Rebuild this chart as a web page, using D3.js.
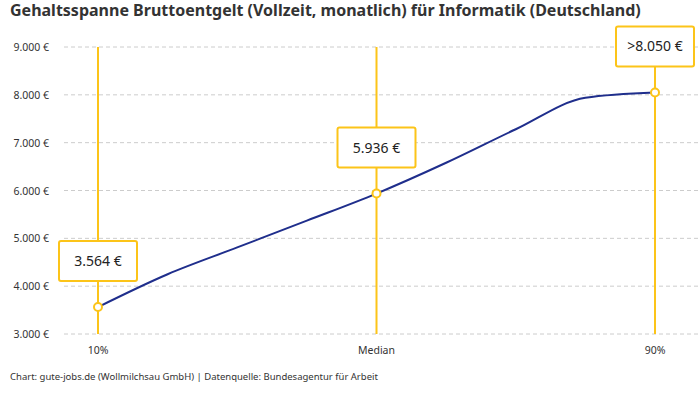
<!DOCTYPE html><html><head><meta charset="utf-8">
<script src="https://cdn.jsdelivr.net/npm/d3@7"></script>
<style>body{margin:0;background:#fff;font-family:"Noto Sans",sans-serif}</style></head><body>
<svg id="c" width="700" height="400"></svg>
<script>
const percentiles=[10,20,30,40,50,60,70,80,90];
const salaries=[3564,4250,4810,5370,5936,6580,7280,7940,8050];
const markers=[{p:10,label:"10%",value:"3.564 €"},{p:50,label:"Median",value:"5.936 €"},{p:90,label:"90%",value:">8.050 €"}];
const yTicks=[3000,4000,5000,6000,7000,8000,9000];
const svg=d3.select("#c");
const x=d3.scaleLinear().domain([10,90]).range([98,655]);
const y=d3.scaleLinear().domain([3000,9000]).range([334,47]);
const fmt=v=>d3.format(",")(v).replace(/,/g,".")+" €";
svg.append("text").attr("x",10).attr("y",16).attr("font-size",16).attr("font-weight",700).attr("fill","#333").text("Gehaltsspanne Bruttoentgelt (Vollzeit, monatlich) für Informatik (Deutschland)");
yTicks.forEach(t=>{
 svg.append("line").attr("x1",64).attr("x2",700).attr("y1",y(t)).attr("y2",y(t)).attr("stroke","#ccc").attr("stroke-dasharray","4,3");
 svg.append("text").attr("x",49).attr("y",y(t)+4).attr("text-anchor","end").attr("font-size",10.5).attr("fill","#333").text(fmt(t));
});
markers.forEach(m=>{
 svg.append("line").attr("x1",x(m.p)).attr("x2",x(m.p)).attr("y1",47).attr("y2",334).attr("stroke","#fcc419").attr("stroke-width",2);
 svg.append("text").attr("x",x(m.p)).attr("y",354).attr("text-anchor","middle").attr("font-size",10.5).attr("fill","#333").text(m.label);
});
svg.append("path").datum(percentiles.map((p,i)=>[p,salaries[i]])).attr("fill","none").attr("stroke","#1f2e8c").attr("stroke-width",2)
 .attr("d",d3.line().x(d=>x(d[0])).y(d=>y(d[1])).curve(d3.curveMonotoneX));
markers.forEach(m=>{
 const i=percentiles.indexOf(m.p),cx=x(m.p),cy=y(salaries[i]);
 svg.append("circle").attr("cx",cx).attr("cy",cy).attr("r",4).attr("fill","#fff").attr("stroke","#fcc419").attr("stroke-width",2);
 const w=78,h=40, bx=Math.min(cx-w/2,697-w), by=cy-h-26;
 svg.append("rect").attr("x",bx).attr("y",by).attr("width",w).attr("height",h).attr("rx",2).attr("fill","#fff").attr("stroke","#fcc419").attr("stroke-width",2);
 svg.append("text").attr("x",bx+w/2).attr("y",by+h/2+5).attr("text-anchor","middle").attr("font-size",14).attr("fill","#222").text(m.value);
});
svg.append("text").attr("x",10).attr("y",380).attr("font-size",9.5).attr("fill","#333").text("Chart: gute-jobs.de (Wollmilchsau GmbH) | Datenquelle: Bundesagentur für Arbeit");
</script></body></html>
